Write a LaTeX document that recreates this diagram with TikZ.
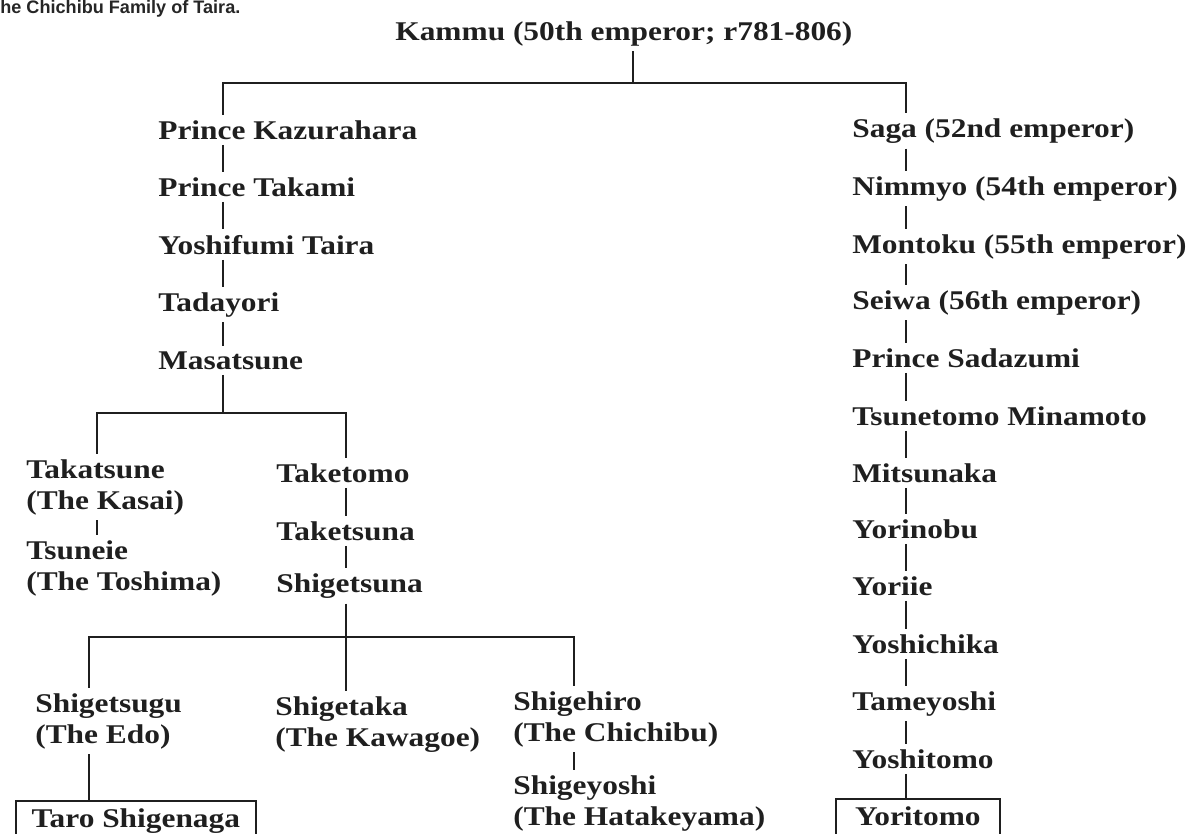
\documentclass[tikz,border=0pt]{standalone}
\usepackage{fontspec}
\setmainfont[FakeStretch=1.16]{Liberation Serif}
\newfontfamily\capfont{Liberation Sans}
\newcommand{\gfont}{\bfseries\fontsize{15.4}{17.6}\selectfont}

\begin{document}
\begin{tikzpicture}[x=0.02cm,y=-0.02cm,
  person/.style={font=\gfont,text=black!88,anchor=base west,inner xsep=0pt,inner ysep=3pt},
  pair/.style={person,align=left},
  endbox/.style={person,draw=black!88,line width=1pt,anchor=north west,inner ysep=0.14cm,text height=0.4cm,text depth=1cm},
  tree/.style={black!88,line width=1pt}]
  \useasboundingbox (0,0) rectangle (1189,833);
  \node[anchor=base west,inner sep=0pt,text=black!85,font=\capfont\bfseries\fontsize{10.3}{12}\selectfont] (title) at (0,13) {he Chichibu Family of Taira.};
  \node[person] (kammu) at (395,40) {Kammu (50th emperor; r781-806)};
  \coordinate (k-l) at (223,83);
  \coordinate (k-m) at (633,83);
  \coordinate (k-r) at (906,83);

  \node[person] (kazurahara) at (158,139) {Prince Kazurahara};
  \node[person] (takami) at (158,196) {Prince Takami};
  \node[person] (yoshifumi) at (158,254) {Yoshifumi Taira};
  \node[person] (tadayori) at (158,311) {Tadayori};
  \node[person] (masatsune) at (158,369) {Masatsune};
  \coordinate (m-l) at (97,413);
  \coordinate (m-m) at (223,413);
  \coordinate (m-r) at (346,413);

  \node[pair] (takatsune) at (26,509) {Takatsune\\(The Kasai)};
  \node[pair] (tsuneie) at (26,590) {Tsuneie\\(The Toshima)};
  \node[person] (taketomo) at (276,482) {Taketomo};
  \node[person] (taketsuna) at (276,540) {Taketsuna};
  \node[person] (shigetsuna) at (276,592) {Shigetsuna};
  \coordinate (s-l) at (89,637);
  \coordinate (s-m) at (346,637);
  \coordinate (s-r) at (574,637);

  \node[pair] (shigetsugu) at (35,743) {Shigetsugu\\(The Edo)};
  \node[pair] (shigetaka) at (275,746) {Shigetaka\\(The Kawagoe)};
  \node[pair] (shigehiro) at (513,741) {Shigehiro\\(The Chichibu)};
  \node[pair] (shigeyoshi) at (513,825) {Shigeyoshi\\(The Hatakeyama)};
  \node[endbox,minimum width=4.8cm] (taro) at (15,800) {Taro Shigenaga};

  \node[person] (saga) at (852,137) {Saga (52nd emperor)};
  \node[person] (nimmyo) at (852,195) {Nimmyo (54th emperor)};
  \node[person] (montoku) at (852,253) {Montoku (55th emperor)};
  \node[person] (seiwa) at (852,309) {Seiwa (56th emperor)};
  \node[person] (sadazumi) at (852,367) {Prince Sadazumi};
  \node[person] (tsunetomo) at (852,425) {Tsunetomo Minamoto};
  \node[person] (mitsunaka) at (852,482) {Mitsunaka};
  \node[person] (yorinobu) at (852,538) {Yorinobu};
  \node[person] (yoriie) at (852,595) {Yoriie};
  \node[person] (yoshichika) at (852,653) {Yoshichika};
  \node[person] (tameyoshi) at (852,710) {Tameyoshi};
  \node[person] (yoshitomo) at (852,768) {Yoshitomo};
  \node[endbox,minimum width=3.28cm] (yoritomo) at (835,798) {Yoritomo};

  \draw[tree] (k-m |- kammu.south) -- (k-m);
  \draw[tree] (kazurahara.north -| k-l) -- (k-l) -- (k-r) -- (saga.north -| k-r);
  \draw[tree] (kazurahara.south -| k-l) -- (takami.north -| k-l);
  \draw[tree] (takami.south -| k-l) -- (yoshifumi.north -| k-l);
  \draw[tree] (yoshifumi.south -| k-l) -- (tadayori.north -| k-l);
  \draw[tree] (tadayori.south -| k-l) -- (masatsune.north -| k-l);
  \draw[tree] (masatsune.south -| m-m) -- (m-m);
  \draw[tree] (takatsune.north -| m-l) -- (m-l) -- (m-r) -- (taketomo.north -| m-r);
  \draw[tree] (takatsune.south -| m-l) -- (tsuneie.north -| m-l);
  \draw[tree] (taketomo.south -| m-r) -- (taketsuna.north -| m-r);
  \draw[tree] (taketsuna.south -| m-r) -- (shigetsuna.north -| m-r);
  \draw[tree] (shigetsuna.south -| s-m) -- (shigetaka.north -| s-m);
  \draw[tree] (shigetsugu.north -| s-l) -- (s-l) -- (s-r) -- (shigehiro.north -| s-r);
  \draw[tree] (shigetsugu.south -| s-l) -- (taro.north -| s-l);
  \draw[tree] (shigehiro.south -| s-r) -- (shigeyoshi.north -| s-r);
  \draw[tree] (saga.south -| k-r) -- (nimmyo.north -| k-r);
  \draw[tree] (nimmyo.south -| k-r) -- (montoku.north -| k-r);
  \draw[tree] (montoku.south -| k-r) -- (seiwa.north -| k-r);
  \draw[tree] (seiwa.south -| k-r) -- (sadazumi.north -| k-r);
  \draw[tree] (sadazumi.south -| k-r) -- (tsunetomo.north -| k-r);
  \draw[tree] (tsunetomo.south -| k-r) -- (mitsunaka.north -| k-r);
  \draw[tree] (mitsunaka.south -| k-r) -- (yorinobu.north -| k-r);
  \draw[tree] (yorinobu.south -| k-r) -- (yoriie.north -| k-r);
  \draw[tree] (yoriie.south -| k-r) -- (yoshichika.north -| k-r);
  \draw[tree] (yoshichika.south -| k-r) -- (tameyoshi.north -| k-r);
  \draw[tree] (tameyoshi.south -| k-r) -- (yoshitomo.north -| k-r);
  \draw[tree] (yoshitomo.south -| k-r) -- (yoritomo.north -| k-r);
\end{tikzpicture}
\end{document}
